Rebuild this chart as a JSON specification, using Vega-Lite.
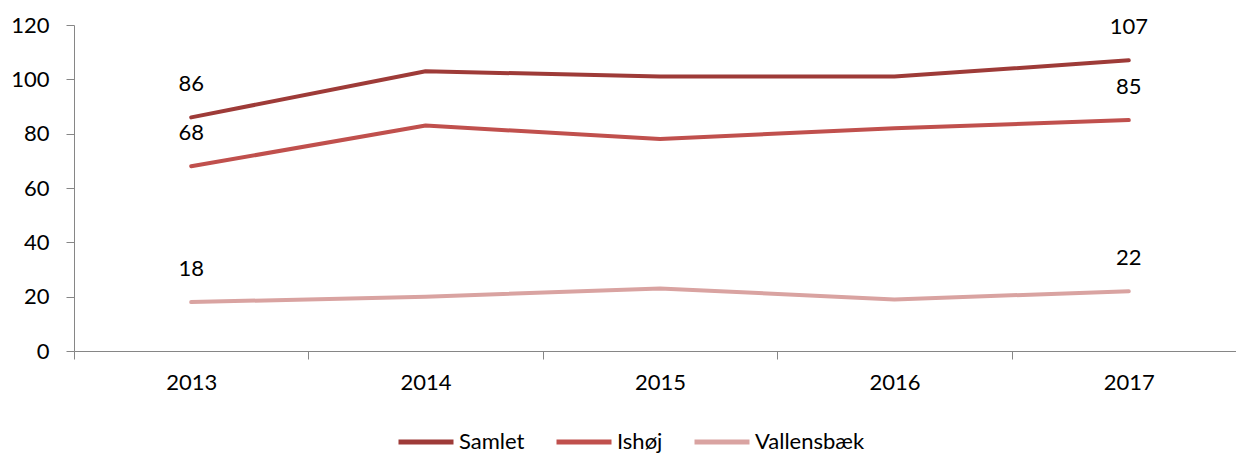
{
  "$schema": "https://vega.github.io/schema/vega-lite/v6.json",
  "width": 1162,
  "height": 326,
  "autosize": {"type": "none"},
  "padding": {"left": 74, "top": 25, "right": 0, "bottom": 102},
  "config": {
    "view": {"stroke": null},
    "font": "Lato",
    "axis": {
      "domainColor": "#868686",
      "tickColor": "#868686",
      "tickSize": 8,
      "labelFontSize": 22,
      "labelColor": "#000000",
      "labelFont": "Lato",
      "grid": false,
      "title": null
    }
  },
  "data": {
    "values": [
      {"year": "2013", "serie": "Samlet", "value": 86},
      {"year": "2014", "serie": "Samlet", "value": 103},
      {"year": "2015", "serie": "Samlet", "value": 101},
      {"year": "2016", "serie": "Samlet", "value": 101},
      {"year": "2017", "serie": "Samlet", "value": 107},
      {"year": "2013", "serie": "Ishøj", "value": 68},
      {"year": "2014", "serie": "Ishøj", "value": 83},
      {"year": "2015", "serie": "Ishøj", "value": 78},
      {"year": "2016", "serie": "Ishøj", "value": 82},
      {"year": "2017", "serie": "Ishøj", "value": 85},
      {"year": "2013", "serie": "Vallensbæk", "value": 18},
      {"year": "2014", "serie": "Vallensbæk", "value": 20},
      {"year": "2015", "serie": "Vallensbæk", "value": 23},
      {"year": "2016", "serie": "Vallensbæk", "value": 19},
      {"year": "2017", "serie": "Vallensbæk", "value": 22}
    ]
  },
  "encoding": {
    "x": {
      "field": "year",
      "type": "ordinal",
      "scale": {"type": "band", "range": [0, 1172], "paddingInner": 0, "paddingOuter": 0},
      "axis": {"tickBand": "extent", "labelAngle": 0, "labelPadding": 13}
    },
    "y": {
      "field": "value",
      "type": "quantitative",
      "scale": {"domain": [0, 120], "nice": false},
      "axis": {"values": [0, 20, 40, 60, 80, 100, 120], "labelPadding": 17}
    }
  },
  "layer": [
    {
      "mark": {"type": "line", "strokeWidth": 4, "strokeCap": "round", "strokeJoin": "round"},
      "encoding": {
        "color": {
          "field": "serie",
          "type": "nominal",
          "sort": ["Samlet", "Ishøj", "Vallensbæk"],
          "scale": {"domain": ["Samlet", "Ishøj", "Vallensbæk"], "range": ["#9E3B38", "#C0504D", "#D9A3A1"]},
          "legend": {
            "title": null,
            "orient": "none",
            "direction": "horizontal",
            "legendX": 322,
            "legendY": 387,
            "symbolType": "stroke",
            "symbolSize": 3025,
            "symbolStrokeWidth": 5,
            "labelFontSize": 22,
            "labelFont": "Lato",
            "labelColor": "#000000",
            "labelOffset": 3,
            "columnPadding": 21
          }
        }
      }
    },
    {
      "transform": [{"filter": "datum.year == '2013' || datum.year == '2017'"}],
      "mark": {"type": "text", "dy": -33, "fontSize": 22, "font": "Lato", "color": "#000000", "baseline": "middle"},
      "encoding": {
        "text": {"field": "value", "type": "quantitative"},
        "detail": {"field": "serie"}
      }
    }
  ]
}
